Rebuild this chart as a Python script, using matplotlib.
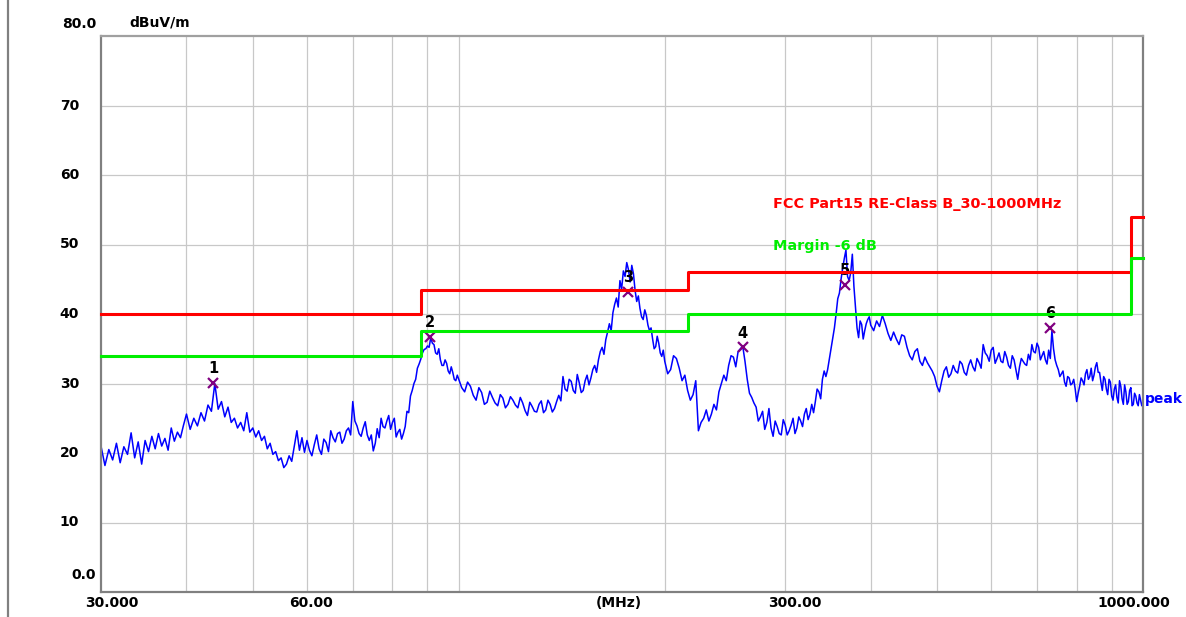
"""Radiated emission scan 30-1000 MHz with FCC Part15 Class B limit."""
import matplotlib
matplotlib.use("Agg")
import matplotlib.pyplot as plt
from matplotlib.lines import Line2D
from matplotlib.ticker import FixedLocator, NullFormatter, NullLocator

plt.rcParams["font.family"] = ["DejaVu Sans"]
plt.rcParams["font.weight"] = "bold"

# --- peak trace (MHz / dBuV/m) ---
freq_30_40 = [30.0, 30.4, 30.8, 31.2, 31.6, 32.0, 32.4, 32.8, 33.2, 33.6,
              34.0, 34.4, 34.8, 35.2, 35.6, 36.0, 36.4, 36.8, 37.2, 37.6,
              38.0, 38.4, 38.8, 39.2, 39.6]
level_30_40 = [21.0, 18.2, 20.5, 19.0, 21.4, 18.6, 20.9, 19.8, 22.9, 19.3,
               21.6, 18.4, 21.8, 20.2, 22.4, 20.6, 22.8, 21.0, 22.1, 20.4,
               23.6, 21.7, 23.0, 22.2, 24.0]

freq_40_60 = [40.0, 40.5, 41.0, 41.5, 42.0, 42.5, 43.0, 43.5, 44.0, 44.5,
              45.0, 45.5, 46.0, 46.5, 47.0, 47.5, 48.0, 48.5, 49.0, 49.5,
              50.0, 50.5, 51.0, 51.5, 52.0, 52.5, 53.0, 53.5, 54.0, 54.5,
              55.0, 55.5, 56.0, 56.5, 57.0, 57.5, 58.0, 58.5, 59.0, 59.5]
level_40_60 = [25.6, 23.4, 25.0, 23.9, 25.8, 24.6, 26.9, 26.0, 30.0, 26.3,
               27.4, 25.2, 26.6, 24.4, 25.0, 23.6, 24.4, 23.2, 25.8, 23.0,
               23.6, 22.3, 23.2, 21.8, 22.4, 20.6, 21.4, 19.8, 20.2, 18.9,
               19.3, 17.9, 18.4, 19.6, 18.8, 21.0, 23.2, 20.4, 22.2, 20.1]

freq_60_100 = [60, 61, 62, 63, 64, 65, 66, 67, 68, 69,
               70, 71, 72, 73, 74, 75, 76, 77, 78, 79,
               80, 81, 82, 83, 84, 85, 86, 87, 88, 89,
               90, 91, 92, 93, 94, 95, 96, 97, 98, 99]
level_60_100 = [21.8, 19.6, 22.6, 19.8, 21.5, 23.2, 21.6, 23.0, 22.0, 23.6,
                27.4, 23.9, 22.4, 24.5, 21.8, 20.3, 23.5, 25.0, 23.6, 25.4,
                24.4, 22.3, 23.4, 22.8, 26.0, 28.2, 30.0, 32.2, 33.5, 34.9,
                35.4, 36.6, 35.6, 34.2, 33.4, 32.6, 32.9, 31.4, 31.6, 30.4]
freq_60_100b = [60.5, 61.5, 62.5, 63.5, 64.5, 65.5, 66.5, 67.5, 68.5, 69.5,
                70.5, 71.5, 72.5, 73.5, 74.5, 75.5, 76.5, 77.5, 78.5, 79.5,
                80.5, 81.5, 82.5, 83.5, 84.5, 85.5, 86.5, 87.5, 88.5, 89.5,
                90.5, 91.5, 92.5, 93.5, 94.5, 95.5, 96.5, 97.5, 98.5, 99.5]
level_60_100b = [20.4, 21.2, 20.6, 22.0, 20.2, 22.2, 22.8, 21.4, 23.2, 22.6,
                 24.6, 22.8, 23.6, 22.6, 22.6, 21.4, 22.2, 23.8, 24.6, 23.4,
                 25.0, 23.0, 22.0, 23.8, 25.8, 29.0, 30.6, 32.8, 34.4, 35.0,
                 35.2, 35.8, 34.4, 35.0, 32.6, 33.4, 31.8, 32.4, 30.6, 31.2]

freq_100_200 = [100, 102, 104, 106, 108, 110, 112, 114, 116, 118,
                120, 122, 124, 126, 128, 130, 132, 134, 136, 138,
                140, 142, 144, 146, 148, 150, 152, 154, 156, 158,
                160, 162, 164, 166, 168, 170, 172, 174, 176, 178,
                180, 182, 184, 186, 188, 190, 192, 194, 196, 198]
level_100_200 = [30.6, 28.8, 29.6, 27.6, 28.7, 27.3, 28.0, 26.8, 27.9, 27.0,
                 27.6, 26.5, 27.2, 25.4, 26.7, 25.9, 27.5, 26.2, 27.0, 26.4,
                 28.3, 31.0, 28.9, 30.3, 28.6, 30.1, 29.0, 31.2, 30.8, 32.6,
                 33.4, 35.2, 36.3, 38.6, 40.2, 42.3, 44.8, 46.2, 47.4, 44.6,
                 45.8, 41.8, 40.8, 39.2, 39.8, 37.6, 36.4, 35.3, 35.8, 33.9]
freq_100_200b = [101, 103, 105, 107, 109, 111, 113, 115, 117, 119,
                 121, 123, 125, 127, 129, 131, 133, 135, 137, 139,
                 141, 143, 145, 147, 149, 151, 153, 155, 157, 159,
                 161, 163, 165, 167, 169, 171, 173, 175, 177, 179,
                 181, 183, 185, 187, 189, 191, 193, 195, 197, 199]
level_100_200b = [29.4, 30.2, 28.3, 29.4, 27.0, 28.9, 27.2, 28.4, 26.5, 28.1,
                  26.9, 28.0, 26.1, 27.3, 26.0, 27.0, 25.8, 27.6, 25.9, 27.4,
                  27.5, 29.2, 30.6, 29.0, 31.3, 28.7, 30.4, 29.8, 32.0, 31.6,
                  34.6, 34.2, 37.4, 37.6, 41.4, 41.0, 43.6, 45.4, 46.4, 47.0,
                  43.4, 42.6, 39.6, 40.6, 38.4, 38.0, 35.0, 36.8, 34.4, 34.8]

freq_200_400 = [200, 204, 208, 212, 216, 220, 224, 228, 232, 236,
                240, 244, 248, 252, 256, 260, 264, 268, 272, 276,
                280, 284, 288, 292, 296, 300, 304, 308, 312, 316,
                320, 324, 328, 332, 336, 340, 344, 348, 352, 356,
                360, 364, 368, 372, 376, 380, 384, 388, 392, 396]
level_200_400 = [33.2, 32.0, 33.6, 30.4, 29.0, 28.4, 23.2, 25.0, 24.6, 27.0,
                 28.8, 31.2, 32.6, 33.8, 34.6, 35.4, 30.6, 28.0, 26.6, 25.2,
                 23.4, 26.4, 22.4, 23.8, 22.6, 24.0, 23.2, 25.0, 23.6, 24.6,
                 25.6, 24.8, 27.0, 27.4, 28.8, 30.6, 31.0, 33.5, 36.4, 40.0,
                 43.0, 46.6, 49.2, 44.8, 48.6, 41.0, 36.6, 38.5, 37.6, 39.2]
freq_200_400b = [202, 206, 210, 214, 218, 222, 226, 230, 234, 238,
                 242, 246, 250, 254, 258, 262, 266, 270, 274, 278,
                 282, 286, 290, 294, 298, 302, 306, 310, 314, 318,
                 322, 326, 330, 334, 338, 342, 346, 350, 354, 358,
                 362, 366, 370, 374, 378, 382, 386, 390, 394, 398]
level_200_400b = [31.4, 34.0, 32.2, 31.2, 27.6, 30.4, 24.4, 26.2, 25.6, 26.2,
                  30.0, 30.4, 34.0, 32.4, 35.0, 33.2, 28.6, 27.2, 24.6, 26.0,
                  24.4, 23.6, 24.6, 22.8, 24.8, 22.6, 24.0, 22.8, 25.2, 23.8,
                  26.4, 25.6, 25.8, 29.2, 27.8, 31.8, 32.0, 35.0, 38.0, 42.2,
                  45.0, 48.0, 45.4, 46.0, 44.0, 38.0, 39.0, 36.4, 38.6, 39.6]

freq_400_1000 = [400, 408, 416, 424, 432, 440, 448, 456, 464, 472,
                 480, 488, 496, 504, 512, 520, 528, 536, 544, 552,
                 560, 568, 576, 584, 592, 600, 608, 616, 624, 632,
                 640, 648, 656, 664, 672, 680, 688, 696, 704, 712,
                 720, 728, 736, 744, 752, 760, 768, 776, 784, 792,
                 800, 808, 816, 824, 832, 840, 848, 856, 864, 872,
                 880, 888, 896, 904, 912, 920, 928, 936, 944, 952,
                 960, 968, 976, 984, 992, 1000]
level_400_1000 = [38.4, 39.0, 39.8, 37.2, 37.4, 35.6, 36.8, 34.0, 34.6, 33.2,
                  33.8, 32.4, 31.0, 28.8, 31.8, 30.9, 32.6, 31.5, 32.8, 31.2,
                  33.4, 31.8, 33.0, 35.6, 34.0, 34.8, 32.9, 34.4, 33.0, 33.8,
                  32.2, 33.4, 30.6, 33.6, 32.8, 34.2, 35.6, 34.4, 35.2, 34.0,
                  33.4, 34.8, 37.6, 33.4, 32.0, 31.4, 30.2, 31.0, 29.8, 30.6,
                  27.4, 29.6, 30.4, 31.4, 30.6, 32.2, 31.2, 33.0, 31.6, 29.0,
                  30.6, 28.4, 30.2, 27.6, 29.8, 27.2, 29.6, 27.0, 28.8, 27.4,
                  29.4, 27.0, 28.2, 26.8, 27.6, 27.2]
freq_400_1000b = [404, 412, 420, 428, 436, 444, 452, 460, 468, 476,
                  484, 492, 500, 508, 516, 524, 532, 540, 548, 556,
                  564, 572, 580, 588, 596, 604, 612, 620, 628, 636,
                  644, 652, 660, 668, 676, 684, 692, 700, 708, 716,
                  724, 732, 740, 748, 756, 764, 772, 780, 788, 796,
                  804, 812, 820, 828, 836, 844, 852, 860, 868, 876,
                  884, 892, 900, 908, 916, 924, 932, 940, 948, 956,
                  964, 972, 980, 988, 996]
level_400_1000b = [37.6, 38.2, 38.6, 36.2, 36.4, 37.0, 35.2, 33.4, 35.0, 32.6,
                   33.0, 31.8, 29.6, 30.4, 32.4, 31.4, 31.8, 33.2, 31.6, 32.6,
                   32.4, 33.6, 32.2, 34.4, 33.2, 35.2, 33.6, 33.2, 34.6, 32.6,
                   34.0, 32.0, 32.4, 33.2, 32.6, 33.4, 34.6, 35.8, 33.4, 34.6,
                   32.8, 33.6, 35.0, 32.6, 31.0, 31.8, 29.6, 30.8, 30.0, 29.2,
                   28.6, 30.8, 29.8, 32.0, 31.0, 30.4, 32.4, 31.6, 30.2, 31.0,
                   29.2, 30.6, 28.2, 29.2, 28.0, 30.4, 27.8, 29.8, 27.0, 29.0,
                   26.8, 28.6, 27.2, 28.4, 26.8]

trace = sorted(zip(
    freq_30_40 + freq_40_60 + freq_60_100 + freq_60_100b + freq_100_200
    + freq_100_200b + freq_200_400 + freq_200_400b + freq_400_1000
    + freq_400_1000b,
    level_30_40 + level_40_60 + level_60_100 + level_60_100b + level_100_200
    + level_100_200b + level_200_400 + level_200_400b + level_400_1000
    + level_400_1000b))
freq = [p[0] for p in trace]
level = [p[1] for p in trace]

# --- limit lines ---
limit_edges = [30, 88, 216, 960, 1000]
limit_classb = [40.0, 43.5, 46.0, 54.0, 54.0]
limit_margin = [34.0, 37.5, 40.0, 48.0, 48.0]

# --- marked peaks ---
marker_freq = [43.8, 90.8, 177.0, 259.9, 367.2, 732.0]
marker_level = [30.1, 36.7, 43.2, 35.2, 44.2, 38.0]
marker_text = ["1", "2", "3", "4", "5", "6"]

grid_freq = [40, 50, 60, 70, 80, 90, 100, 200, 300, 400, 500, 600, 700, 800, 900]
y_grid = [10, 20, 30, 40, 50, 60, 70]

W, H = 1186, 617
fig = plt.figure(figsize=(W / 100, H / 100), dpi=100)
ax = fig.add_axes([101 / W, 25 / H, 1042 / W, 556 / H])
ax.set_xscale("log")
ax.set_xlim(30, 1000)
ax.set_ylim(0, 80)
ax.xaxis.set_major_locator(FixedLocator(grid_freq))
ax.xaxis.set_minor_locator(NullLocator())
ax.xaxis.set_major_formatter(NullFormatter())
ax.set_yticks(y_grid)
ax.tick_params(which="both", length=0, labelbottom=False, labelleft=False)
ax.grid(True, color="#c8c8c8", lw=0.9)
ax.set_axisbelow(True)
for s in ax.spines.values():
    s.set_color("#808080")
    s.set_linewidth(1.6)
ax.spines["top"].set_color("#a0a0a0")

ax.plot(freq, level, color="#0000ff", lw=1.1, zorder=2)
ax.plot(marker_freq, marker_level, ls="none", marker="x", ms=7, mew=1.6,
        color="#800080", zorder=3)
for f, l, t in zip(marker_freq, marker_level, marker_text):
    ax.annotate(t, (f, l), xytext=(0, 14), textcoords="offset pixels",
                ha="center", va="center", fontsize=10.5, color="black", zorder=3)

ax.step(limit_edges, limit_classb, where="post", color="#ff0000", lw=2.2,
        zorder=4, clip_on=False)
ax.step(limit_edges, limit_margin, where="post", color="#00ee00", lw=2.2,
        zorder=4, clip_on=False)

ax.text((773 - 101) / 1042, (592 - 204) / 556, "FCC Part15 RE-Class B_30-1000MHz",
        transform=ax.transAxes, color="#ff0000", fontsize=10.4, va="center")
ax.text((773 - 101) / 1042, (592 - 246) / 556, "Margin -6 dB",
        transform=ax.transAxes, color="#00ee00", fontsize=10.4, va="center")
ax.text((1145 - 101) / 1042, (592 - 399) / 556, "peak",
        transform=ax.transAxes, color="#0000ff", fontsize=10, va="center",
        clip_on=False)

# y labels
for v in y_grid:
    ax.annotate(str(v), (0, v), xycoords=("axes fraction", "data"),
                xytext=(-22, 0), textcoords="offset pixels",
                ha="right", va="center", fontsize=10)
ax.annotate("80.0", (0, 80), xycoords=("axes fraction", "data"),
            xytext=(-5, 12), textcoords="offset pixels",
            ha="right", va="center", fontsize=10)
ax.annotate("0.0", (0, 0), xycoords=("axes fraction", "data"),
            xytext=(-5, 17), textcoords="offset pixels",
            ha="right", va="center", fontsize=10)
fig.text(160 / W, 1 - 22 / H, "dBuV/m", ha="center", va="center", fontsize=10)

# x labels
x_labels = [(30, "30.000", 11), (60, "60.00", 4), (300, "300.00", 10),
            (1000, "1000.000", -9)]
for f, t, dx in x_labels:
    ax.annotate(t, (f, 0), xycoords=("data", "axes fraction"),
                xytext=(dx, -11), textcoords="offset pixels",
                ha="center", va="center", fontsize=10)
ax.annotate("(MHz)", (0.497, 0), xycoords="axes fraction",
            xytext=(0, -11), textcoords="offset pixels",
            ha="center", va="center", fontsize=10)

# frame line on the far left
fig.add_artist(Line2D([8 / W, 8 / W], [0, 1], transform=fig.transFigure,
                      color="#808080", lw=1.6))

fig.savefig("out.png", dpi=100)
